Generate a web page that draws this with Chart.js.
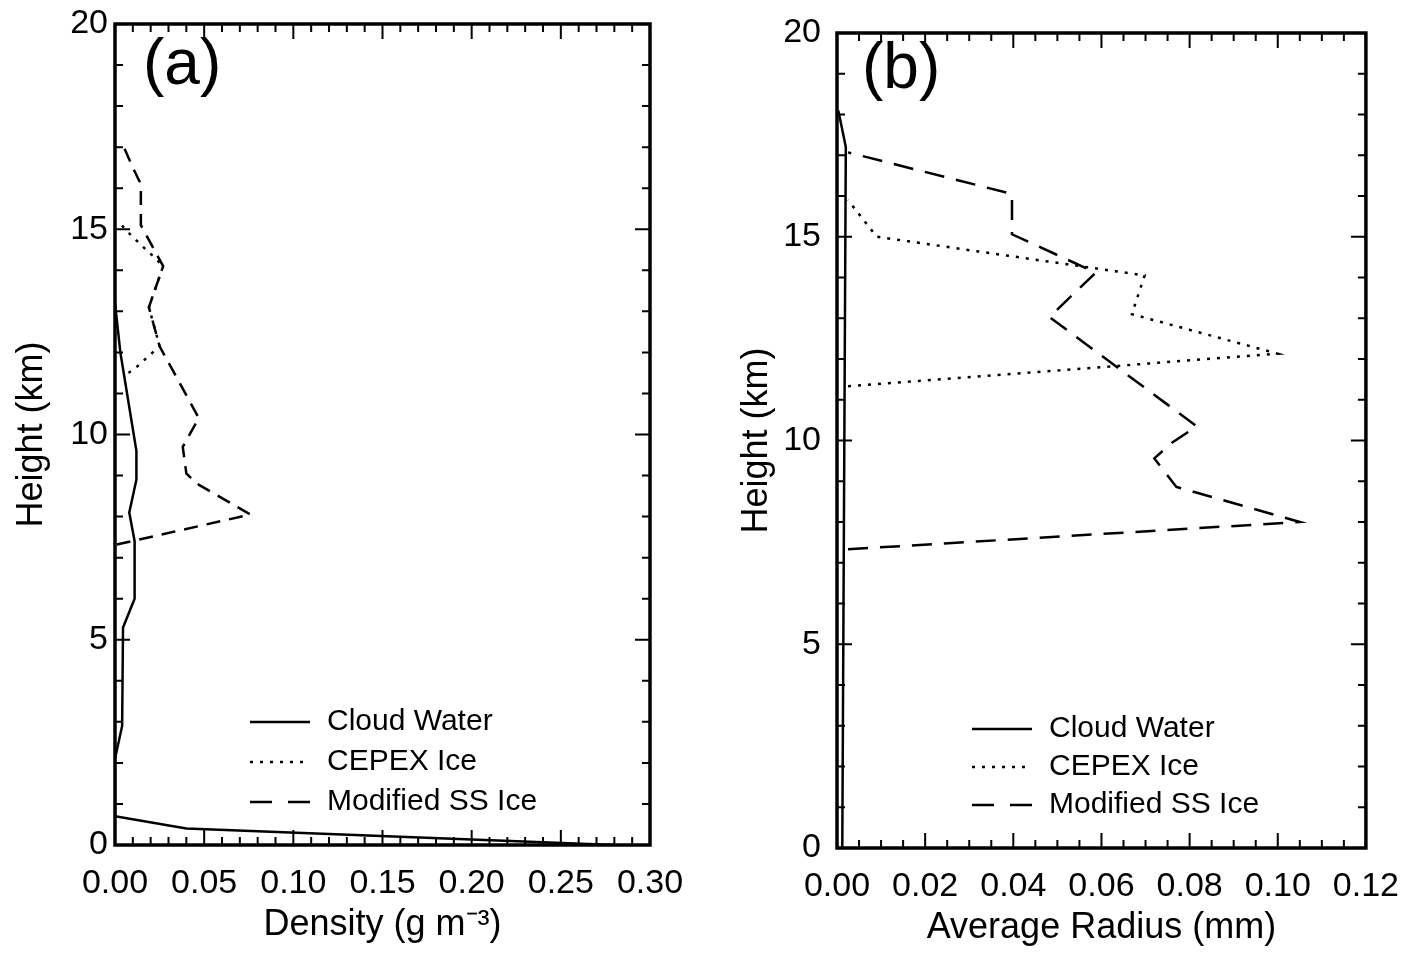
<!DOCTYPE html>
<html>
<head>
<meta charset="utf-8">
<script src="https://cdn.jsdelivr.net/npm/chart.js@4.4.1/dist/chart.umd.min.js"></script>
<style>
  body { margin: 0; background: #fff; }
  .panel { position: absolute; top: 0; }
</style>
</head>
<body>
<div class="panel" style="left:0"><canvas id="chartA" width="710" height="955"></canvas></div>
<div class="panel" style="left:710px"><canvas id="chartB" width="711" height="955"></canvas></div>
<script>
// ---- panel (a): density profiles ----
const heightWaterA = [0.0, 0.4, 0.7, 2.1, 2.9, 5.3, 6.0, 7.4, 8.1, 8.9, 9.6, 12.0, 13.2];
const densityWater = [0.28, 0.04, 0.0, 0.0, 0.004, 0.0045, 0.011, 0.011, 0.008, 0.012, 0.012, 0.003, 0.0];

const heightCepexA = [11.5, 11.6, 12.15, 13.1, 14.1, 14.4, 14.6, 15.0, 15.2];
const densityCepex = [0.0075, 0.011, 0.025, 0.019, 0.027, 0.02, 0.015, 0.0056, 0.002];

const heightSSA = [7.32, 8.05, 8.8, 9.05, 9.7, 10.4, 12.15, 13.1, 14.1, 15.1, 16.1, 16.5, 17.1];
const densitySS = [0.001, 0.076, 0.046, 0.04, 0.038, 0.047, 0.025, 0.019, 0.027, 0.0145, 0.0145, 0.01, 0.004];

// ---- panel (b): average radius profiles ----
const heightWaterB = [0.0, 17.2, 18.1];
const radiusWater = [0.0012, 0.002, 0.0003];

const heightCepexB = [11.33, 12.13, 13.1, 14.05, 15.0, 15.9];
const radiusCepex = [0.0025, 0.100, 0.0669, 0.0698, 0.009, 0.0025];

const heightSSB = [7.33, 8.0, 8.86, 9.56, 9.93, 10.35, 13.03, 14.12, 15.06, 16.05, 17.07];
const radiusSS = [0.0025, 0.105, 0.077, 0.072, 0.0758, 0.0816, 0.0482, 0.0587, 0.0397, 0.0397, 0.0025];

const seriesNames = ['Cloud Water', 'CEPEX Ice', 'Modified SS Ice'];
const densityTicks = ['0.00', '0.05', '0.10', '0.15', '0.20', '0.25', '0.30'];
const radiusTicks = ['0.00', '0.02', '0.04', '0.06', '0.08', '0.10', '0.12'];
const heightTicks = ['0', '5', '10', '15', '20'];

const FONT = '"Liberation Sans", Arial, sans-serif';
const SOLID = [];
const DOTTED = [3, 7];

function toPoints(xs, ys) {
    return xs.map((x, i) => ({ x: x, y: ys[i] }));
}

function lineSet(label, xs, ys, dash, legendDash) {
    return {
        label,
        data: toPoints(ys, xs),
        showLine: true,
        pointRadius: 0,
        borderColor: '#000',
        borderWidth: 2.5,
        borderDash: dash,
        legendDash: legendDash,
        fill: false,
        tension: 0
    };
}

// inward ticks on all four sides, frame, panel tag, legend
const frameTicks = {
    id: 'frameTicks',
    afterDatasetsDraw(chart, args, opts) {
        const { ctx, chartArea: a, scales: { x, y } } = chart;
        ctx.save();
        ctx.strokeStyle = '#000';
        ctx.lineWidth = 2;
        ctx.beginPath();
        for (let i = 0; i <= opts.xCount; i++) {
            const px = x.getPixelForValue(i * opts.xMinor);
            const len = i % opts.xMajorEvery === 0 ? 15 : 8;
            ctx.moveTo(px, a.bottom); ctx.lineTo(px, a.bottom - len);
            ctx.moveTo(px, a.top); ctx.lineTo(px, a.top + len);
        }
        for (let i = 0; i <= 20; i++) {
            const py = y.getPixelForValue(i);
            const len = i % 5 === 0 ? 15 : 8;
            ctx.moveTo(a.left, py); ctx.lineTo(a.left + len, py);
            ctx.moveTo(a.right, py); ctx.lineTo(a.right - len, py);
        }
        ctx.stroke();

        ctx.lineWidth = 3.5;
        ctx.strokeRect(a.left, a.top, a.right - a.left, a.bottom - a.top);

        ctx.fillStyle = '#000';
        ctx.textAlign = 'left';
        ctx.textBaseline = 'middle';
        ctx.font = '64px ' + FONT;
        ctx.fillText(opts.tag, opts.tagX, opts.tagY);

        ctx.font = '30px ' + FONT;
        ctx.lineWidth = 2.5;
        chart.data.datasets.forEach((ds, i) => {
            const ly = opts.legendY + i * opts.legendGap;
            ctx.setLineDash(ds.legendDash);
            ctx.beginPath();
            ctx.moveTo(opts.legendX, ly);
            ctx.lineTo(opts.legendX + 60, ly);
            ctx.stroke();
            ctx.setLineDash([]);
            ctx.fillText(ds.label, opts.legendX + 77, ly);
        });
        ctx.restore();
    }
};

function makeChart(id, datasets, xMax, xStep, xLabels, xTitle, box, frame) {
    return new Chart(document.getElementById(id), {
        type: 'scatter',
        data: { datasets },
        plugins: [frameTicks],
        options: {
            responsive: false,
            animation: false,
            layout: { padding: { left: 0, right: box.right, top: box.top, bottom: 0 } },
            plugins: {
                legend: { display: false },
                tooltip: { enabled: false },
                frameTicks: frame
            },
            scales: {
                x: {
                    type: 'linear', min: 0, max: xMax,
                    grid: { display: false, drawTicks: false },
                    border: { display: false },
                    ticks: {
                        stepSize: xStep, autoSkip: false, maxRotation: 0,
                        color: '#000', padding: 22,
                        font: { family: FONT, size: 34, lineHeight: 1 },
                        callback: (v, i) => xLabels[i]
                    },
                    title: {
                        display: true, text: xTitle, color: '#000',
                        font: { family: FONT, size: 36 },
                        padding: { top: 0, bottom: box.xTitlePad }
                    },
                    afterFit: s => { s.height = box.xHeight; }
                },
                y: {
                    type: 'linear', min: 0, max: 20,
                    grid: { display: false, drawTicks: false },
                    border: { display: false },
                    ticks: {
                        stepSize: 5, color: '#000', padding: box.yTickPad,
                        font: { family: FONT, size: 34, lineHeight: 1 },
                        callback: (v, i) => heightTicks[i]
                    },
                    title: {
                        display: true, text: 'Height (km)', color: '#000',
                        font: { family: FONT, size: 36 },
                        padding: { top: box.yTitlePad, bottom: 0 }
                    },
                    afterFit: s => { s.width = box.yWidth; }
                }
            }
        }
    });
}

makeChart('chartA', [
    lineSet(seriesNames[0], heightWaterA, densityWater, SOLID, SOLID),
    lineSet(seriesNames[1], heightCepexA, densityCepex, DOTTED, DOTTED),
    lineSet(seriesNames[2], heightSSA, densitySS, [14, 9], [22, 16])
], 0.30, 0.05, densityTicks, 'Density (g m\u207B\u00B3)',
    { right: 60, top: 17, xHeight: 110, yWidth: 115, yTickPad: 7, xTitlePad: 8, yTitlePad: 10 },
    { xCount: 30, xMinor: 0.01, xMajorEvery: 5, tag: '(a)', tagX: 143, tagY: 66, legendX: 250, legendY: 722, legendGap: 40 });

makeChart('chartB', [
    lineSet(seriesNames[0], heightWaterB, radiusWater, SOLID, SOLID),
    lineSet(seriesNames[1], heightCepexB, radiusCepex, DOTTED, DOTTED),
    lineSet(seriesNames[2], heightSSB, radiusSS, [20, 12], [22, 16])
], 0.12, 0.02, radiusTicks, 'Average Radius (mm)',
    { right: 46, top: 22, xHeight: 107, yWidth: 127, yTickPad: 16, xTitlePad: 5, yTitlePad: 25 },
    { xCount: 24, xMinor: 0.005, xMajorEvery: 4, tag: '(b)', tagX: 152, tagY: 70, legendX: 262, legendY: 729, legendGap: 38 });
</script>
</body>
</html>
